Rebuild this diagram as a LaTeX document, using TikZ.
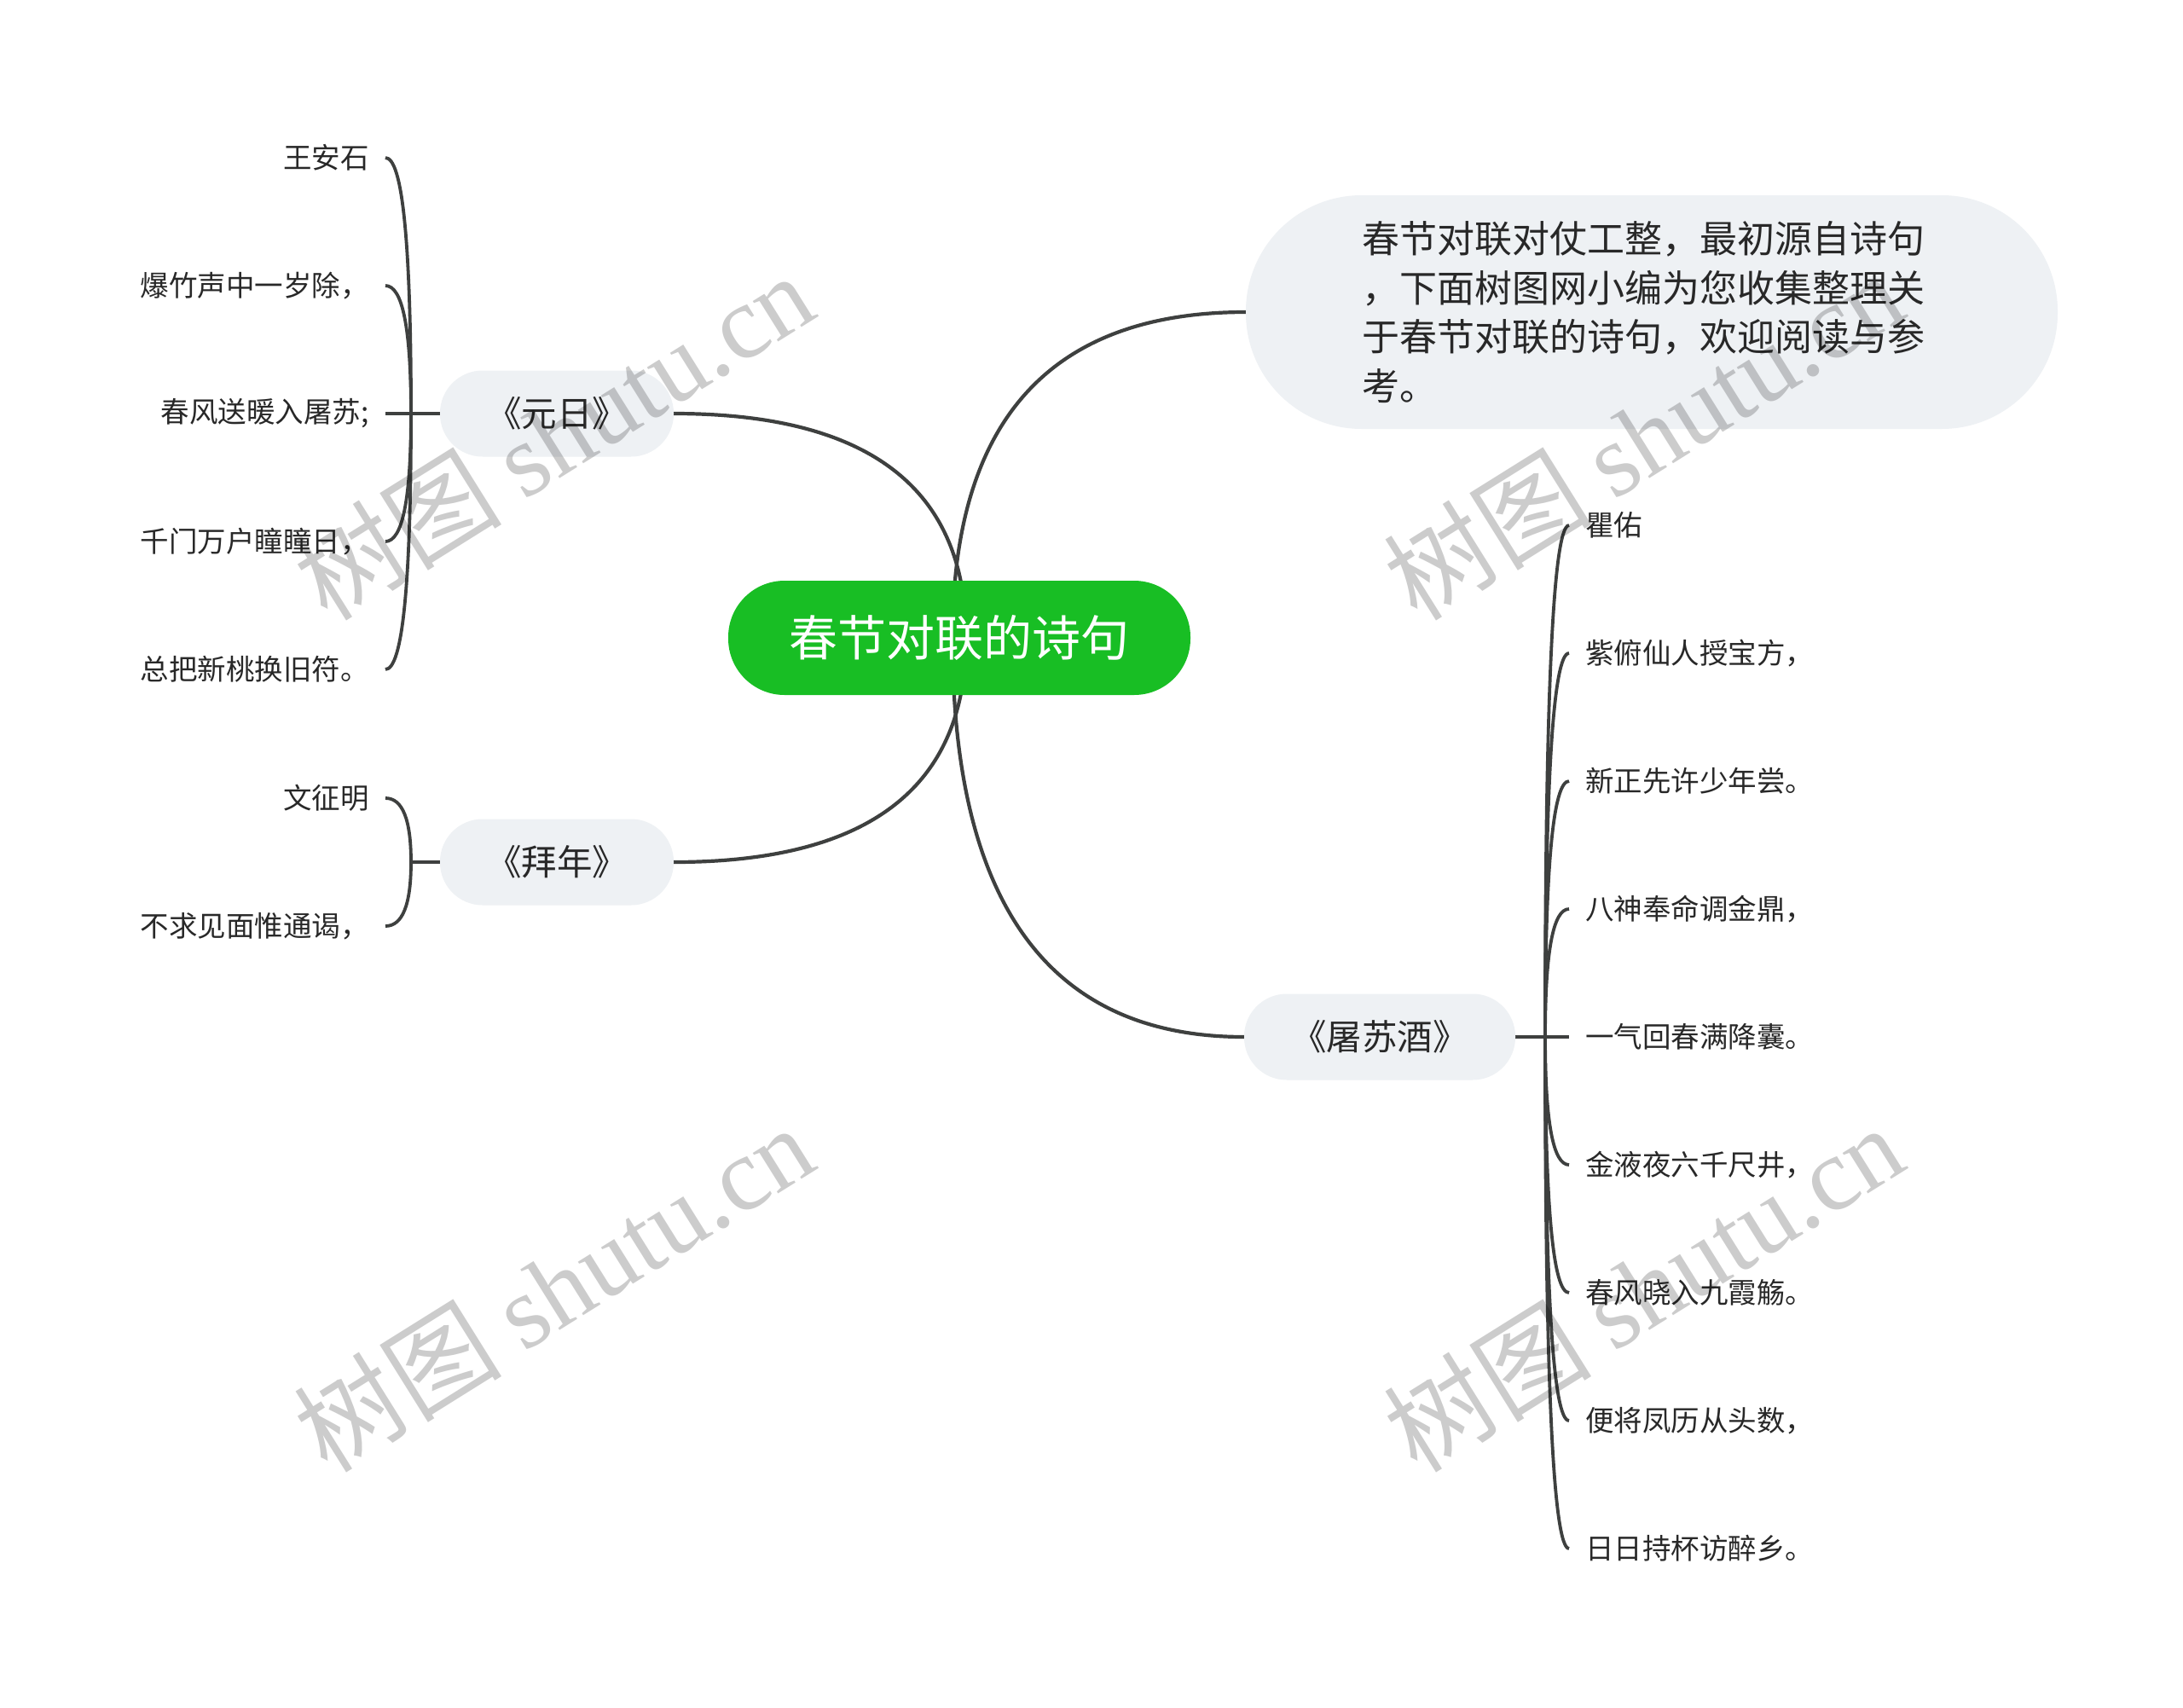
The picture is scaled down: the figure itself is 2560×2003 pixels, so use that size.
\documentclass[tikz,border=0pt]{standalone}
\usepackage{fontspec}
\setmainfont{Noto Sans CJK SC}
\newfontfamily\wmcjk{Noto Sans CJK SC}
\newfontfamily\wmlat{Liberation Serif}
\usetikzlibrary{calc}
\pgfdeclarelayer{background}
\pgfdeclarelayer{foreground}
\pgfsetlayers{background,main,foreground}
\definecolor{cgreen}{RGB}{24,190,36}
\definecolor{cnode}{RGB}{238,241,244}
\definecolor{cline}{RGB}{62,64,63}
\definecolor{ctext}{RGB}{40,40,40}
\newcommand\qcurve[3]{%
  \path (#2 |- #3) coordinate (qctl);
  \draw[#1] (#2) .. controls ($(#2)!0.667!(qctl)$) and ($(#3)!0.667!(qctl)$) .. (#3);}
\begin{document}
\begin{tikzpicture}[x=1pt,y=-1pt,
  conn/.style={draw=cline,line width=4.2pt},
  brk/.style={draw=cline,line width=3.8pt},
  rootbox/.style={fill=cgreen,text=white,rounded corners=66pt,minimum width=542pt,minimum height=134pt,inner sep=0pt,font=\fontsize{57}{68}\selectfont},
  topicbox/.style={fill=cnode,text=ctext,rounded corners=50pt,minimum height=101pt,inner sep=0pt,font=\fontsize{41.5}{50}\selectfont},
  introbox/.style={fill=cnode,text=ctext,rounded corners=136pt,minimum width=952pt,minimum height=274pt,inner sep=0pt,align=left,text width=680pt,font=\fontsize{44}{57.5}\selectfont},
  leafl/.style={anchor=east,text=ctext,inner xsep=19pt,inner ysep=0pt,font=\fontsize{33.5}{40}\selectfont},
  leafr/.style={anchor=west,text=ctext,inner xsep=19pt,inner ysep=0pt,font=\fontsize{33.5}{40}\selectfont},
  wm/.style={rotate=32,text=black,text opacity=0.2,inner sep=0pt,font=\fontsize{122}{130}\selectfont}
]
\useasboundingbox (0,0) rectangle (2560,2003);
\begin{pgfonlayer}{background}
\fill[white] (0,0) rectangle (2560,2003);
\end{pgfonlayer}

% nodes
\node[rootbox] (root) at (1125,748) {春节对联的诗句};
\node[introbox] (intro) at (1937,366) {春节对联对仗工整，最初源自诗句\\，下面树图网小编为您收集整理关\\于春节对联的诗句，欢迎阅读与参\\考。};
\node[topicbox,minimum width=274pt] (yuanri) at (653,485) {《元日》};
\node[topicbox,minimum width=274pt] (bainian) at (653,1011) {《拜年》};
\node[topicbox,minimum width=318pt] (tusu) at (1618,1216) {《屠苏酒》};

% leaves of 元日
\node[leafl] (y1) at (452,185) {王安石};
\node[leafl] (y2) at (452,335) {爆竹声中一岁除，};
\node[leafl] (y3) at (452,485) {春风送暖入屠苏;};
\node[leafl] (y4) at (452,635) {千门万户瞳瞳日，};
\node[leafl] (y5) at (452,785) {总把新桃换旧符。};
% leaves of 拜年
\node[leafl] (b1) at (452,936) {文征明};
\node[leafl] (b2) at (452,1086) {不求见面惟通谒，};
% leaves of 屠苏酒
\node[leafr] (t1) at (1840,616) {瞿佑};
\node[leafr] (t2) at (1840,766) {紫俯仙人授宝方，};
\node[leafr] (t3) at (1840,916) {新正先许少年尝。};
\node[leafr] (t4) at (1840,1066) {八神奉命调金鼎，};
\node[leafr] (t5) at (1840,1216) {一气回春满降囊。};
\node[leafr] (t6) at (1840,1366) {金液夜六千尺井，};
\node[leafr] (t7) at (1840,1516) {春风晓入九霞觞。};
\node[leafr] (t8) at (1840,1666) {便将凤历从头数，};
\node[leafr] (t9) at (1840,1816) {日日持杯访醉乡。};

\coordinate (rl) at ($(root.center)+(8,0)$);
\coordinate (rr) at ($(root.center)+(-8,0)$);
\coordinate (yj) at (482,485);
\coordinate (bj) at (482,1011);
\coordinate (tj) at (1812,1216);

\begin{pgfonlayer}{background}
\qcurve{conn}{rl}{yuanri.east}
\qcurve{conn}{rl}{bainian.east}
\qcurve{conn}{rr}{intro.west}
\qcurve{conn}{rr}{tusu.west}
\draw[brk] (yuanri.west) -- (y3.east);
\foreach \n in {y1,y2,y4,y5}{\qcurve{brk}{yj}{\n.east}}
\draw[brk] (bainian.west) -- (bj);
\foreach \n in {b1,b2}{\qcurve{brk}{bj}{\n.east}}
\draw[brk] (tusu.east) -- (t5.west);
\foreach \n in {t1,t2,t3,t4,t6,t7,t8,t9}{\qcurve{brk}{tj}{\n.west}}
\end{pgfonlayer}

\begin{pgfonlayer}{foreground}
\node[wm] (wm1) at (649,511) {\wmcjk 树图\hspace{0.22em}\wmlat shutu.cn};
\node[wm] (wm2) at (1927,511) {\wmcjk 树图\hspace{0.22em}\wmlat shutu.cn};
\node[wm] (wm3) at (649,1510) {\wmcjk 树图\hspace{0.22em}\wmlat shutu.cn};
\node[wm] (wm4) at (1927,1510) {\wmcjk 树图\hspace{0.22em}\wmlat shutu.cn};
\end{pgfonlayer}
\end{tikzpicture}
\end{document}
